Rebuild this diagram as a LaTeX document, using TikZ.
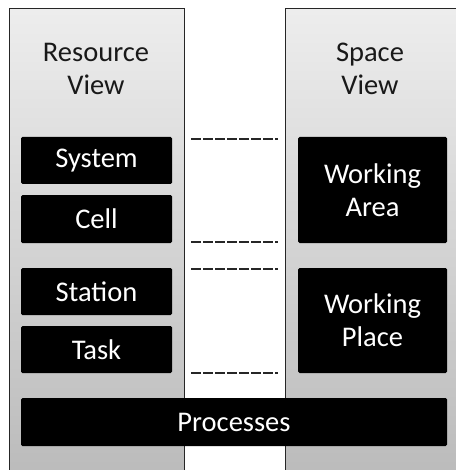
\documentclass[tikz,border=0pt]{standalone}
\usepackage{fontspec}
\setmainfont{Carlito}
\begin{document}
\begin{tikzpicture}[x=1pt,y=-1pt,font=\fontsize{28.5}{33}\selectfont]
\tikzset{
  panel/.style={draw=black!85, line width=1.2pt, top color=black!7, bottom color=black!27,
    anchor=north west, inner sep=0pt},
  viewtitle/.style={align=center, text=black!90, inner sep=0pt},
  blk/.style={fill=black, rounded corners=1.5pt, text=white, align=center, inner sep=0pt},
  link/.style={draw=black!85, line width=1.6pt, dash pattern=on 10pt off 2pt,
    shorten <=19pt, shorten >=20pt}
}
\useasboundingbox (0,0) rectangle (455,470);

% the two view panels (they run past the lower and right page edges)
\node[panel, minimum width=175pt, minimum height=475pt] (resview) at (9,8) {};
\node[panel, minimum width=185pt, minimum height=475pt] (spaceview) at (285,8) {};

\node[viewtitle] (restitle) at (96,69) {Resource\\View};
\node[viewtitle] (spacetitle) at (370,69) {Space\\View};

% resource levels
\node[blk, minimum width=151pt, minimum height=47pt] (sys) at (96.5,160.5) {System};
\node[blk, minimum width=151pt, minimum height=48pt] (cell) at (96.5,219) {Cell};
\node[blk, minimum width=151pt, minimum height=47pt] (station) at (96.5,291.5) {Station};
\node[blk, minimum width=151pt, minimum height=47pt] (task) at (96.5,349.5) {Task};

% space levels
\node[blk, minimum width=149pt, minimum height=106pt] (warea) at (372.5,190) {Working\\Area};
\node[blk, minimum width=149pt, minimum height=105pt] (wplace) at (372.5,320.5) {Working\\Place};

% shared process layer
\node[blk, minimum width=426pt, minimum height=48pt] (proc) at (234,422) {Processes};

% correspondences between the two views
\draw[link] ([yshift=-2pt]sys.north east) -- ([yshift=-2pt]warea.north west);
\draw[link] ([yshift=1pt]cell.south east) -- ([yshift=1pt]warea.south west);
\draw[link] ([yshift=-1pt]station.north east) -- ([yshift=-1pt]wplace.north west);
\draw[link] (task.south east) -- (wplace.south west);
\end{tikzpicture}
\end{document}
